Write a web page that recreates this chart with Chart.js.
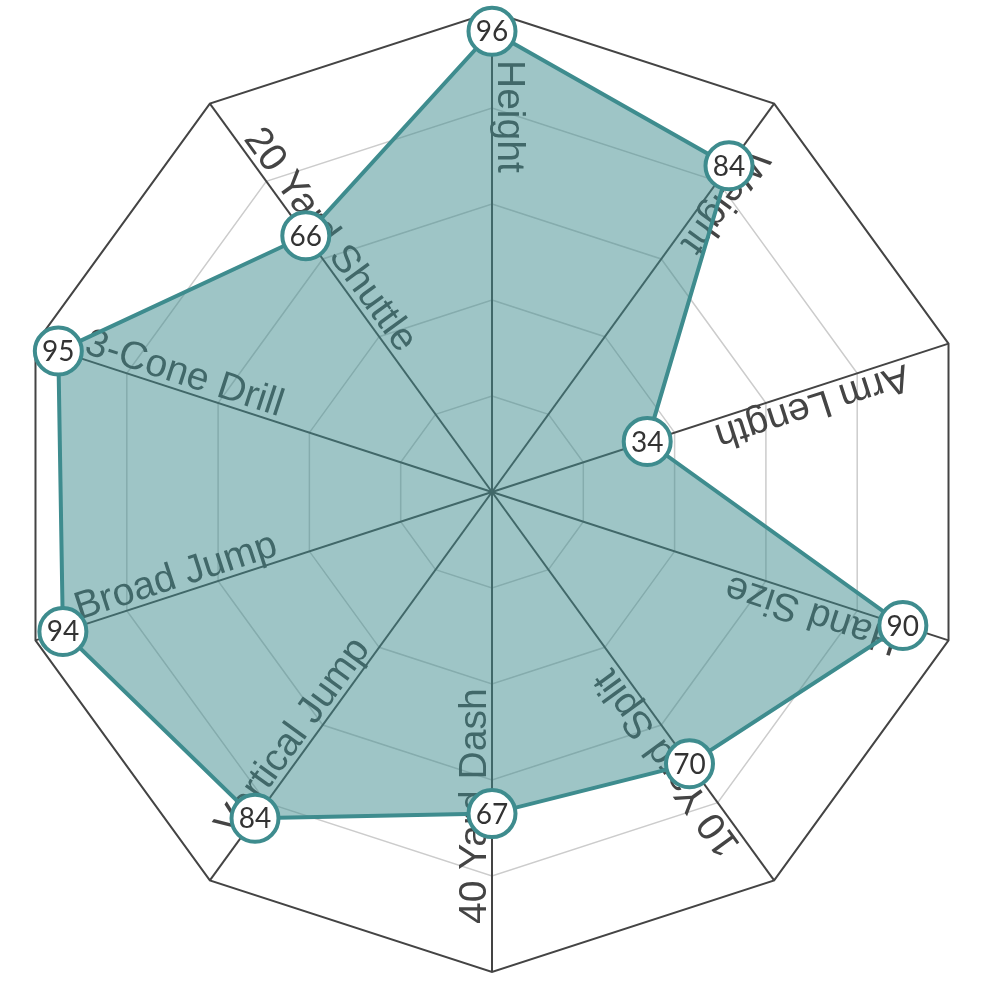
<!DOCTYPE html>
<html>
<head>
<meta charset="utf-8">
<script src="https://cdn.jsdelivr.net/npm/chart.js@4/dist/chart.umd.min.js"></script>
<style>
  html, body { margin: 0; padding: 0; background: #fff; }
  canvas { display: block; }
</style>
</head>
<body>
<canvas id="radar" width="984" height="994"></canvas>
<script>
const categories = ['Height', 'Weight', 'Arm Length', 'Hand Size', '10 Yard Split', '40 Yard Dash', 'Vertical Jump', 'Broad Jump', '3-Cone Drill', '20 Yard Shuttle'];
const percentiles = [96, 84, 34, 90, 70, 67, 84, 94, 95, 66];
const scaleTicks = [0, 20, 40, 60, 80, 100];

const teal = 'rgb(62, 140, 142)';
const tealFill = 'rgba(62, 140, 142, 0.5)';
const darkGray = '#444';

// labels run along each spoke, drawn under the fill
const spokeLabels = {
	id: 'spokeLabels',
	beforeDatasetsDraw(chart) {
		const scale = chart.scales.r;
		const ctx = chart.ctx;
		ctx.save();
		ctx.font = '39px "Liberation Sans", Arial, sans-serif';
		ctx.fillStyle = darkGray;
		ctx.textAlign = 'left';
		ctx.textBaseline = 'alphabetic';
		categories.forEach((label, i) => {
			const angle = scale.getIndexAngle(i) - Math.PI / 2;
			const pos = scale.getPointPosition(i, scale.drawingArea - 48);
			ctx.save();
			ctx.translate(pos.x, pos.y);
			ctx.rotate(angle + Math.PI);
			ctx.fillText(label, 0, -6);
			ctx.restore();
		});
		ctx.restore();
	},
	afterDatasetsDraw(chart) {
		const ctx = chart.ctx;
		const meta = chart.getDatasetMeta(0);
		ctx.save();
		ctx.font = '28px Lato, "Noto Sans", sans-serif';
		ctx.fillStyle = '#333';
		ctx.textAlign = 'center';
		ctx.textBaseline = 'middle';
		meta.data.forEach((pt, i) => {
			ctx.fillText(String(percentiles[i]), pt.x, pt.y + 1);
		});
		ctx.restore();
	},
};

new Chart(document.getElementById('radar'), {
	type: 'radar',
	data: {
		labels: categories,
		datasets: [
			{
				data: percentiles,
				fill: true,
				backgroundColor: tealFill,
				borderColor: teal,
				borderWidth: 4,
				pointRadius: 23.5,
				pointHoverRadius: 23.5,
				pointBorderWidth: 4,
				pointBackgroundColor: '#fff',
				pointBorderColor: teal,
			},
		],
	},
	options: {
		responsive: false,
		animation: false,
		layout: {padding: {top: 12, bottom: 22, left: 0, right: 0}},
		plugins: {
			legend: {display: false},
			tooltip: {enabled: false},
		},
		scales: {
			r: {
				min: scaleTicks[0],
				max: scaleTicks[scaleTicks.length - 1],
				ticks: {display: false, stepSize: scaleTicks[1] - scaleTicks[0]},
				pointLabels: {display: false},
				angleLines: {color: darkGray, lineWidth: 2},
				grid: {
					color: (c) => (c.tick && c.tick.value === 100 ? darkGray : '#cccccc'),
					lineWidth: (c) => (c.tick && c.tick.value === 100 ? 2 : 1.5),
				},
			},
		},
	},
	plugins: [spokeLabels],
});
</script>
</body>
</html>
